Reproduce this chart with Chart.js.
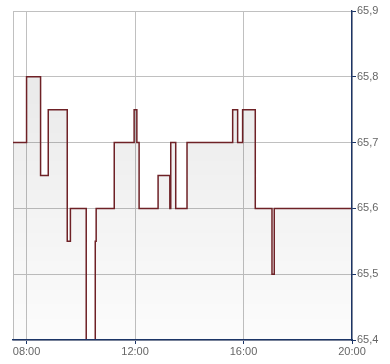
<!DOCTYPE html>
<html>
<head>
<meta charset="utf-8">
<script src="https://cdn.jsdelivr.net/npm/chart.js@4/dist/chart.umd.min.js"></script>
<style>
  html, body { margin: 0; padding: 0; background: #fff; }
  #wrap { width: 390px; height: 364px; }
</style>
</head>
<body>
<div id="wrap"><canvas id="priceChart" width="390" height="364"></canvas></div>
<script>
// change times (step happens at each time) and the new price
const times = ['07:30', '08:00', '08:31', '08:48', '09:30', '09:37', '10:12', '10:32', '10:34',
               '11:14', '11:58', '12:04', '12:09', '12:51', '13:17', '13:19', '13:30', '13:55',
               '15:36', '15:47', '15:58', '16:26', '17:03', '17:08', '20:00'];
const prices = [65.70, 65.80, 65.65, 65.75, 65.55, 65.60, 65.40, 65.55, 65.60,
                65.70, 65.75, 65.70, 65.60, 65.65, 65.60, 65.70, 65.60, 65.70,
                65.75, 65.70, 65.75, 65.60, 65.50, 65.60, 65.60];
const xTicks = [7.5, 8, 12, 16, 20];   // 7.5 only draws the left frame line
const yTicks = [65.4, 65.5, 65.6, 65.7, 65.8, 65.9];

const toHours = t => { const p = t.split(':'); return +p[0] + +p[1] / 60; };
const points = times.map((t, i) => ({ x: toHours(t), y: prices[i] }));

const navy = '#1c3567';
const gridGrey = '#c0c0c0';
const labelFont = { family: 'Liberation Sans, Arial, sans-serif', size: 11 };

// axis lines sit on top of the price line, like the original
const axisOnTop = {
    id: 'axisOnTop',
    afterDatasetsDraw(chart) {
        chart.scales.x.drawBorder();
        chart.scales.y.drawBorder();
    }
};

const ctx = document.getElementById('priceChart').getContext('2d');
new Chart(ctx, {
    type: 'line',
    data: {
        datasets: [{
            data: points,
            stepped: true,
            borderColor: '#6e2126',
            borderWidth: 1.5,
            pointRadius: 0,
            fill: 'start',
            clip: { left: 3, top: 3, right: 3, bottom: -1 },
            backgroundColor: function(c) {
                const area = c.chart.chartArea;
                if (!area) return 'rgba(0,0,0,0.06)';
                const g = c.chart.ctx.createLinearGradient(0, area.top, 0, area.bottom);
                g.addColorStop(0, 'rgba(0,0,0,0.10)');
                g.addColorStop(1, 'rgba(0,0,0,0.01)');
                return g;
            }
        }]
    },
    plugins: [axisOnTop],
    options: {
        responsive: false,
        animation: false,
        layout: { padding: { left: 13, top: 11 } },
        plugins: { legend: { display: false }, tooltip: { enabled: false } },
        scales: {
            x: {
                type: 'linear',
                min: 7.5,
                max: 20,
                afterBuildTicks: axis => { axis.ticks = xTicks.map(v => ({ value: v })); },
                afterFit: axis => { axis.height = 24; },
                grid: {
                    color: gridGrey,
                    lineWidth: 1,
                    tickLength: 4,
                    tickColor: c => c.index === 0 ? 'transparent' : navy
                },
                border: { color: navy, width: 1.2 },
                ticks: {
                    padding: 1,
                    color: '#666',
                    font: labelFont,
                    maxRotation: 0,
                    callback: v => v === 7.5 ? '' : String(v).padStart(2, '0') + ':00'
                }
            },
            y: {
                position: 'right',
                min: 65.4,
                max: 65.9,
                afterBuildTicks: axis => { axis.ticks = yTicks.map(v => ({ value: v })); },
                afterFit: axis => { axis.width = 38; },
                grid: {
                    color: gridGrey,
                    lineWidth: 1,
                    tickLength: 4,
                    tickColor: navy
                },
                border: { color: navy, width: 1.2 },
                ticks: {
                    padding: 1,
                    color: '#666',
                    font: labelFont,
                    callback: v => v.toFixed(1).replace('.', ',')
                }
            }
        }
    }
});
</script>
</body>
</html>
